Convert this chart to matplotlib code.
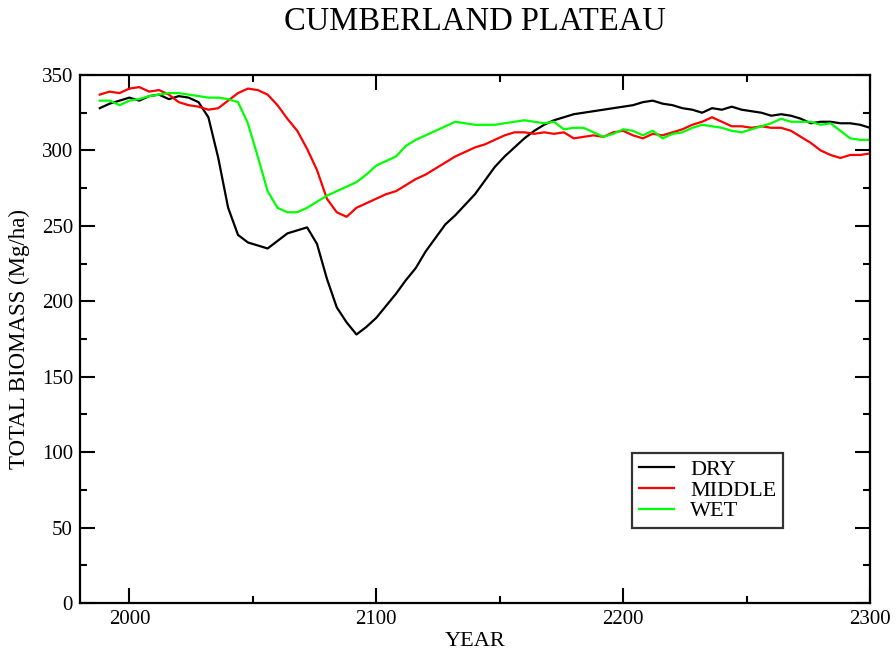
import numpy as np
import matplotlib
matplotlib.use("Agg")
import matplotlib.pyplot as plt
from matplotlib.ticker import MultipleLocator

plt.rcParams['font.family'] = ['Liberation Serif', 'DejaVu Serif']

# years sampled every 4 years
years = np.arange(1988, 2301, 4)

dry = [328, 331, 333, 335, 333, 336, 337, 334, 336, 335, 332, 322, 295, 262, 244, 239,
       237, 235, 240, 245, 247, 249, 238, 215, 196, 186, 178, 183, 189, 197, 205, 214,
       222, 233, 242, 251, 257, 264, 271, 280, 289, 296, 302, 308, 313, 317, 320, 322,
       324, 325, 326, 327, 328, 329, 330, 332, 333, 331, 330, 328, 327, 325, 328, 327,
       329, 327, 326, 325, 323, 324, 323, 321, 318, 319, 319, 318, 318, 317, 315]

middle = [337, 339, 338, 341, 342, 339, 340, 337, 332, 330, 329, 327, 328, 333, 338, 341,
          340, 337, 330, 321, 313, 301, 287, 268, 259, 256, 262, 265, 268, 271, 273, 277,
          281, 284, 288, 292, 296, 299, 302, 304, 307, 310, 312, 312, 311, 312, 311, 312,
          308, 309, 310, 309, 312, 313, 310, 308, 311, 310, 312, 314, 317, 319, 322, 319,
          316, 316, 315, 316, 315, 315, 313, 309, 305, 300, 297, 295, 297, 297, 298]

wet = [333, 333, 330, 333, 334, 336, 337, 338, 338, 337, 336, 335, 335, 334, 332, 318,
       296, 273, 262, 259, 259, 262, 266, 270, 273, 276, 279, 284, 290, 293, 296, 303,
       307, 310, 313, 316, 319, 318, 317, 317, 317, 318, 319, 320, 319, 318, 319, 314,
       315, 315, 312, 309, 311, 314, 313, 310, 313, 308, 311, 312, 315, 317, 316, 315,
       313, 312, 314, 316, 318, 321, 319, 319, 319, 317, 318, 313, 308, 307, 307]

fig = plt.figure(figsize=(8.96, 6.55), dpi=100)
ax = fig.add_axes([80/896, 52/655, 790/896, 528/655])

ax.plot(years, dry, color='black', lw=1.6, label='DRY')
ax.plot(years, middle, color='#ff0000', lw=1.6, label='MIDDLE')
ax.plot(years, wet, color='#00ff00', lw=1.6, label='WET')

ax.set_xlim(1980, 2300)
ax.set_ylim(0, 350)
ax.xaxis.set_major_locator(MultipleLocator(100))
ax.xaxis.set_minor_locator(MultipleLocator(50))
ax.yaxis.set_major_locator(MultipleLocator(50))
ax.yaxis.set_minor_locator(MultipleLocator(25))
ax.tick_params(which='both', direction='in', top=True, right=True, width=1.5, labelsize=15)
ax.tick_params(which='major', length=11, pad=5)
ax.tick_params(which='minor', length=5)
for s in ax.spines.values():
    s.set_linewidth(1.6)

ax.set_xlabel('YEAR', fontsize=16)
ax.set_ylabel('TOTAL BIOMASS (Mg/ha)', fontsize=16.5)
ax.xaxis.set_label_coords(0.5, -0.055)
ax.yaxis.set_label_coords(-0.063, 0.5)
# title centred over the plot area
fig.text(475/896, 1 - 22/655, 'CUMBERLAND PLATEAU', ha='center', va='center', fontsize=23.5)

leg = ax.legend(loc='upper left', bbox_to_anchor=(0.699, 0.284), fancybox=False,
                edgecolor='black', fontsize=16, handlelength=1.6, borderpad=0.3,
                borderaxespad=0, labelspacing=0.0, handletextpad=0.7)
leg.get_frame().set_linewidth(1.6)

fig.savefig('out.png', dpi=100)
